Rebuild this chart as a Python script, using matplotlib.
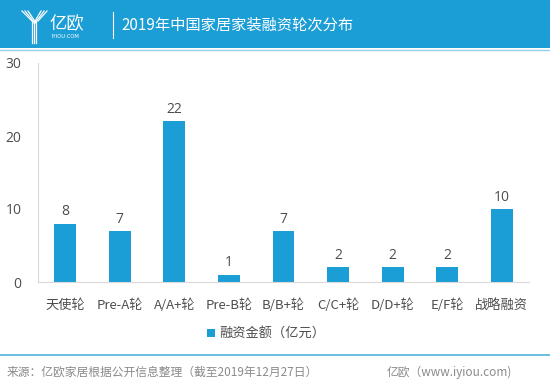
import matplotlib
matplotlib.use("Agg")
import matplotlib.pyplot as plt
from matplotlib.patches import Rectangle
from matplotlib.lines import Line2D

plt.rcParams['font.family'] = ['Noto Sans CJK SC', 'DejaVu Sans']

categories = ["天使轮", "Pre-A轮", "A/A+轮", "Pre-B轮", "B/B+轮", "C/C+轮", "D/D+轮", "E/F轮", "战略融资"]
values = [8, 7, 22, 1, 7, 2, 2, 2, 10]
yticks = [0, 10, 20, 30]
title = "2019年中国家居家装融资轮次分布"
legend_label = "融资金额（亿元）"
source = "来源：亿欧家居根据公开信息整理（截至2019年12月27日）"
credit = "亿欧（www.iyiou.com)"

W, H = 550, 388
fig = plt.figure(figsize=(W / 100, H / 100), dpi=100)
fig.patch.set_facecolor("white")

blue = "#1b9dd5"
txt = "#4d4d4d"
# header band
fig.patches.append(Rectangle((0, 1 - 48 / H), 1, 48 / H, transform=fig.transFigure,
                             facecolor=blue, edgecolor="none", zorder=0))
fig.lines.append(Line2D([0, 1], [1 - 49.5 / H] * 2, transform=fig.transFigure,
                        color="#8fd0ec", lw=1))

def fx(x): return x / W
def fy(y): return 1 - y / H

# logo (stylized Y)
for i, dx in enumerate((0, 3, 6)):
    fig.lines.append(Line2D([fx(22 + dx), fx(32 + i * 2)], [fy(11), fy(21 + i)],
                            transform=fig.transFigure, color="white", lw=0.9))
    fig.lines.append(Line2D([fx(47 - dx), fx(36 - i * 2 + 2)], [fy(11), fy(21 + i)],
                            transform=fig.transFigure, color="white", lw=0.9))
for dx in (32, 34, 36):
    fig.lines.append(Line2D([fx(dx)] * 2, [fy(21), fy(43)],
                            transform=fig.transFigure, color="white", lw=0.9))
fig.text(fx(50), fy(24), "亿欧", color="white", fontsize=12.5, va="center", ha="left")
fig.text(fx(52), fy(36.5), "IYIOU·COM", color="white", fontsize=3.8, va="center", ha="left",
         family=["DejaVu Sans"])
fig.lines.append(Line2D([fx(113)] * 2, [fy(12), fy(38)], transform=fig.transFigure,
                        color="white", lw=0.8))
fig.text(fx(121), fy(25), title, color="white", fontsize=11, va="center", ha="left")

# axes
ax = fig.add_axes([38 / W, 1 - 282 / H, (529 - 38) / W, (282 - 63) / H])
x = list(range(len(categories)))
ax.bar(x, values, width=0.4, color=blue, zorder=2, label=legend_label)
for xi, v in zip(x, values):
    ax.text(xi, v + 0.6, str(v), ha="center", va="bottom", fontsize=10, color=txt,
            family=["Open Sans", "DejaVu Sans"])
ax.set_xlim(-0.5, len(categories) - 0.5)
ax.set_ylim(0, 30)
ax.set_yticks(yticks)
ax.set_yticklabels([str(t) for t in yticks], fontsize=10, color=txt,
                   family=["Open Sans", "DejaVu Sans"])
ax.set_xticks(x)
ax.set_xticklabels(categories, fontsize=9.5, color=txt)
ax.tick_params(length=0, pad=12)
ax.tick_params(axis="y", pad=12)
for s in ("top", "right"):
    ax.spines[s].set_visible(False)
ax.spines["left"].set_color("#d9d9d9")
ax.spines["bottom"].set_color("#d9d9d9")
ax.set_facecolor("none")

leg = ax.legend(loc="upper left", bbox_to_anchor=(0.32, -0.155), frameon=False,
                fontsize=9.5, handlelength=0.6, handleheight=0.6, handletextpad=0.3,
                labelcolor=txt)

# footer
fig.lines.append(Line2D([0, 1], [fy(355)] * 2, transform=fig.transFigure,
                        color="#4fb3dc", lw=1.2))
fig.text(fx(7), fy(372), source, color="#8a8a8a", fontsize=8.5, va="center", ha="left")
fig.text(fx(512), fy(372), credit, color="#8a8a8a", fontsize=8.5, va="center", ha="right")

fig.savefig("out.png", dpi=100)
